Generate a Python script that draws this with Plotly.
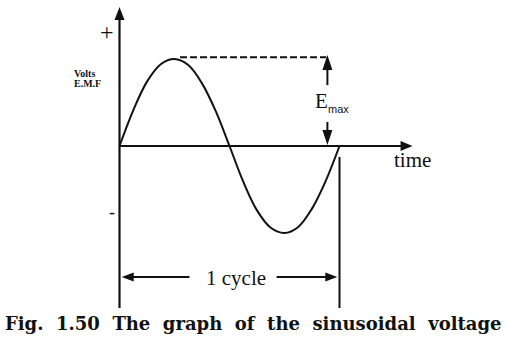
import plotly.graph_objects as go

# ---- data: time in cycles, voltage in units of E_max ----
wave_t = [0, 0.0625, 0.125, 0.1875, 0.25, 0.3125, 0.375, 0.4375, 0.5,
          0.5625, 0.625, 0.6875, 0.75, 0.8125, 0.875, 0.9375, 1.0]
wave_v = [0, 0.41, 0.74, 0.94, 1.0, 0.93, 0.72, 0.40, 0.0,
          -0.41, -0.74, -0.94, -1.0, -0.93, -0.72, -0.40, 0.0]

emax_level = [1.02, 1.02]
emax_span_t = [0.275, 0.94]
cycle_bounds = [0.0, 1.0]

label_time = "time"
label_volts = "Volts"
label_emf = "E.M.F"
label_plus = "+"
label_minus = "-"
label_E = "E"
label_max = "max"
label_cycle = "1 cycle"
caption_words = ["Fig.", "1.50", "The", "graph", "of", "the", "sinusoidal", "voltage"]

INK = "#111111"
SERIF = "Liberation Serif"

fig = go.Figure()

def line(xs, ys, w=2, dash=None):
    fig.add_trace(go.Scatter(x=xs, y=ys, mode="lines", hoverinfo="skip",
                             line=dict(color=INK, width=w, dash=dash),
                             showlegend=False))

def head(t, v, direction, length, width):
    h = width / 2
    paths = {
        "up": f"M0,0L{-h},{-length}L{h},{-length}Z",
        "down": f"M0,0L{-h},{length}L{h},{length}Z",
        "right": f"M0,0L{-length},{h}L{-length},{-h}Z",
        "left": f"M0,0L{length},{h}L{length},{-h}Z",
    }
    fig.add_shape(type="path", xref="x", yref="y", xsizemode="pixel",
                  ysizemode="pixel", xanchor=t, yanchor=v,
                  path=paths[direction], fillcolor=INK, line=dict(width=0))

# axes
line([0, 0], [-1.862, 1.50], w=2.2)
head(0, 1.598, "up", 13, 10)
line([0, 1.30], [0, 0], w=2)
head(1.332, 0, "right", 12, 10)

# sine wave
fig.add_trace(go.Scatter(x=wave_t, y=wave_v, mode="lines", hoverinfo="skip",
                         line=dict(color=INK, width=2, shape="spline",
                                   smoothing=1.0), showlegend=False))

# E_max dashed level and arrows
line(emax_span_t, emax_level, w=2, dash="7px,3px")
line([0.945, 0.945], [0.70, 0.98], w=2)
head(0.945, 1.046, "up", 15, 10)
line([0.945, 0.945], [0.276, 0.12], w=2)
head(0.945, 0.011, "down", 15, 10)

# 1 cycle markers
line([cycle_bounds[1], cycle_bounds[1]], [-0.126, -1.862], w=2)
line([0.03, 0.318], [-1.506, -1.506], w=2)
head(0.01, -1.506, "left", 12, 9)
line([0.714, 0.97], [-1.506, -1.506], w=2)
head(0.99, -1.506, "right", 12, 9)

def text(t, v, s, size, family=SERIF, xanchor="center", color=INK):
    fig.add_annotation(x=t, y=v, xref="x", yref="y", text=s, showarrow=False,
                       xanchor=xanchor, yanchor="middle",
                       font=dict(family=family, size=size, color=color))

text(1.332, -0.161, label_time, 21)
text(-0.059, 1.31, label_plus, 24)
text(-0.036, -0.759, label_minus, 18)
text(-0.218, 0.839, f"<b>{label_volts}</b>", 10, xanchor="left")
text(-0.218, 0.713, f"<b>{label_emf}</b>", 10, xanchor="left")
text(0.920, 0.517, label_E, 21)
text(0.995, 0.425, label_max, 11, family="Liberation Sans")
text(0.53, -1.517, label_cycle, 21)

caption = "&nbsp; ".join(caption_words)
fig.add_annotation(x=0.5, y=(352 - 323) / 352, xref="paper", yref="paper",
                   text=f"<b>{caption}</b>", showarrow=False,
                   xanchor="center", yanchor="middle",
                   font=dict(family="DejaVu Serif", size=18, color=INK))

fig.update_layout(
    width=506, height=352,
    margin=dict(l=0, r=0, t=0, b=0),
    paper_bgcolor="white", plot_bgcolor="white",
    xaxis=dict(range=[-119.5 / 220, (506 - 119.5) / 220], visible=False,
               fixedrange=True),
    yaxis=dict(range=[(146 - 352) / 87, 146 / 87], visible=False,
               fixedrange=True),
    showlegend=False,
)

fig.write_html("out.html", config={"displayModeBar": False})
